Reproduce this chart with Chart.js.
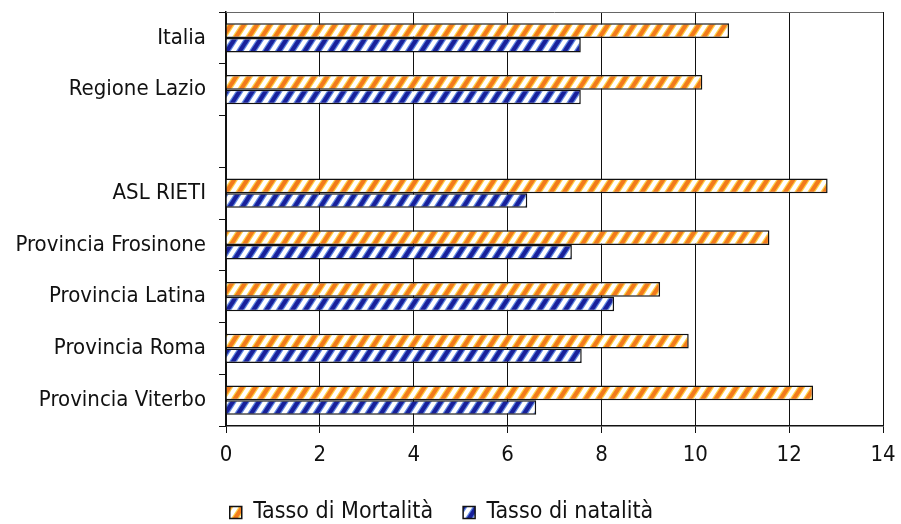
<!DOCTYPE html>
<html>
<head>
<meta charset="utf-8">
<script src="https://cdn.jsdelivr.net/npm/chart.js@4.4.1/dist/chart.umd.min.js"></script>
<style>
  html, body { margin: 0; padding: 0; background: #fff; }
  #wrap { width: 901px; height: 524px; }
</style>
</head>
<body>
<div id="wrap"><canvas id="chart" width="901" height="524"></canvas></div>
<script>
const categories = ["Italia", "Regione Lazio", "", "ASL RIETI", "Provincia Frosinone", "Provincia Latina", "Provincia Roma", "Provincia Viterbo"];
const mortalita = [10.72, 10.15, null, 12.82, 11.58, 9.25, 9.86, 12.51];
const natalita = [7.56, 7.56, null, 6.42, 7.37, 8.27, 7.58, 6.61];
const xTicks = [0, 2, 4, 6, 8, 10, 12, 14];

const FONT = "'DejaVu Sans Condensed', 'DejaVu Sans', sans-serif";

// diagonal hatch pattern, like the old spreadsheet fill (steep "/" stripes)
function makeStripes(main, edge) {
  const w = 13, h = 20;
  const c = document.createElement("canvas");
  c.width = w;
  c.height = h;
  const g = c.getContext("2d");
  g.fillStyle = "#fff";
  g.fillRect(0, 0, w, h);
  for (const off of [-w, 0, w]) {
    g.strokeStyle = edge;
    g.lineWidth = 6.5;
    g.beginPath();
    g.moveTo(off - w * 0.2, h * 1.2);
    g.lineTo(off + w * 1.2, -h * 0.2);
    g.stroke();
    g.strokeStyle = main;
    g.lineWidth = 4;
    g.beginPath();
    g.moveTo(off - w * 0.2, h * 1.2);
    g.lineTo(off + w * 1.2, -h * 0.2);
    g.stroke();
  }
  return g.createPattern(c, "repeat");
}

const orange = makeStripes("#f27a1c", "#ffcf45");
const blue = makeStripes("#18209a", "#5f86e0");

const frameTop = {
  id: "frameTop",
  afterDraw(chart) {
    const a = chart.chartArea;
    const ctx = chart.ctx;
    ctx.save();
    ctx.strokeStyle = "#666";
    ctx.lineWidth = 1;
    ctx.beginPath();
    ctx.moveTo(a.left, a.top + 0.5);
    ctx.lineTo(a.right, a.top + 0.5);
    ctx.stroke();
    ctx.restore();
  }
};

function noPad(scale) {
  scale.paddingTop = 0;
  scale.paddingBottom = 0;
  scale.paddingLeft = 0;
  scale.paddingRight = 0;
}

new Chart(document.getElementById("chart"), {
  type: "bar",
  data: {
    labels: categories,
    datasets: [
      {
        label: "Tasso di Mortalità",
        data: mortalita,
        backgroundColor: orange,
        borderColor: "#111",
        borderWidth: 1.5,
        categoryPercentage: 0.57,
        barPercentage: 1.0
      },
      {
        label: "Tasso di natalità",
        data: natalita,
        backgroundColor: blue,
        borderColor: "#111",
        borderWidth: 1.5,
        categoryPercentage: 0.57,
        barPercentage: 1.0
      }
    ]
  },
  options: {
    indexAxis: "y",
    responsive: false,
    animation: false,
    layout: { padding: { top: 12, right: 18, left: 0, bottom: -10 } },
    scales: {
      x: {
        min: 0,
        max: 14,
        afterBuildTicks: (scale) => { scale.ticks = xTicks.map(v => ({ value: v })); },
        grid: { color: "#111", lineWidth: 1, tickLength: 7, drawTicks: true },
        border: { color: "#111", width: 1.5 },
        ticks: { color: "#111", padding: 9, font: { family: FONT, size: 22 } },
        afterFit: (scale) => { noPad(scale); scale.height = 45; }
      },
      y: {
        grid: { display: true, drawOnChartArea: false, offset: true, tickLength: 7, color: "#111" },
        border: { color: "#111", width: 1.5 },
        ticks: { color: "#111", padding: 13, font: { family: FONT, size: 22 } },
        afterFit: (scale) => { noPad(scale); scale.width = 226; }
      }
    },
    plugins: {
      legend: {
        position: "bottom",
        labels: {
          color: "#111",
          boxWidth: 12,
          boxHeight: 12,
          padding: 30,
          font: { family: FONT, size: 23 }
        }
      },
      tooltip: { enabled: false }
    }
  },
  plugins: [frameTop]
});
</script>
</body>
</html>
